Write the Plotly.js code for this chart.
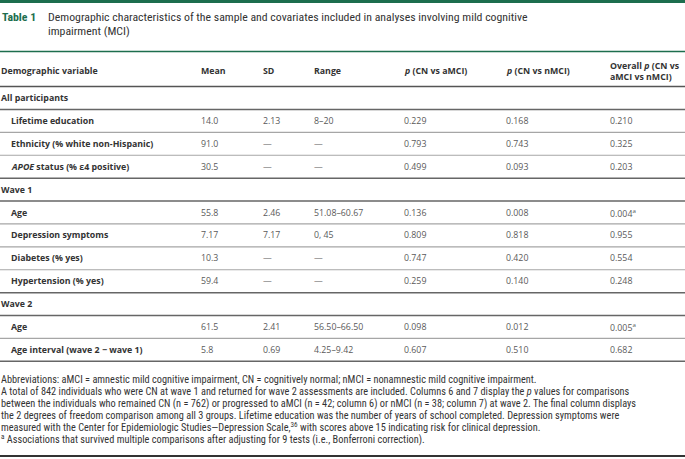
<!DOCTYPE html>
<html>
<head>
<meta charset="utf-8">
<script src="https://cdn.plot.ly/plotly-3.0.1.min.js"></script>
<style>html,body{margin:0;padding:0;background:#fff;}#chart{width:685px;height:459px;}</style>
</head>
<body>
<div id="chart"></div>
<script>
// ---------- DATA ----------
const rowLabels = ["All participants", "Lifetime education", "Ethnicity (% white non-Hispanic)",
  "<i>APOE</i> status (% ε4 positive)", "Wave 1", "Age", "Depression symptoms", "Diabetes (% yes)",
  "Hypertension (% yes)", "Wave 2", "Age", "Age interval (wave 2 − wave 1)"];
const isSection = [true, false, false, false, true, false, false, false, false, true, false, false];
const meanVals  = ["", "14.0", "91.0", "30.5", "", "55.8", "7.17", "10.3", "59.4", "", "61.5", "5.8"];
const sdVals    = ["", "2.13", "—", "—", "", "2.46", "7.17", "—", "—", "", "2.41", "0.69"];
const rangeVals = ["", "8–20", "—", "—", "", "51.08–60.67", "0, 45", "—", "—", "", "56.50–66.50", "4.25–9.42"];
const pAmci     = ["", "0.229", "0.793", "0.499", "", "0.136", "0.809", "0.747", "0.259", "", "0.098", "0.607"];
const pNmci     = ["", "0.168", "0.743", "0.093", "", "0.008", "0.818", "0.420", "0.140", "", "0.012", "0.510"];
const pOverall  = ["", "0.210", "0.325", "0.203", "", "0.004<sup>a</sup>", "0.955", "0.554", "0.248", "", "0.005<sup>a</sup>", "0.682"];
const headers = ["Demographic variable", "Mean", "SD", "Range", "<i>p</i> (CN vs aMCI)", "<i>p</i> (CN vs nMCI)", "Overall <i>p</i> (CN vs<br>aMCI vs nMCI)"];
const titleLabel = "Table 1";
const titleText = ["Demographic characteristics of the sample and covariates included in analyses involving mild cognitive", "impairment (MCI)"];
const footnotes = [
  "Abbreviations: aMCI = amnestic mild cognitive impairment, CN = cognitively normal; nMCI = nonamnestic mild cognitive impairment.",
  "A total of 842 individuals who were CN at wave 1 and returned for wave 2 assessments are included. Columns 6 and 7 display the <i>p</i> values for comparisons",
  "between the individuals who remained CN (n = 762) or progressed to aMCI (n = 42; column 6) or nMCI (n = 38; column 7) at wave 2. The final column displays",
  "the 2 degrees of freedom comparison among all 3 groups. Lifetime education was the number of years of school completed. Depression symptoms were",
  "measured with the Center for Epidemiologic Studies—Depression Scale,<sup>36</sup> with scores above 15 indicating risk for clinical depression.",
  "<sup>a</sup> Associations that survived multiple comparisons after adjusting for 9 tests (i.e., Bonferroni correction)."
];

// ---------- LAYOUT CONFIG ----------
const W = 685, H = 459;
const pitch = 22.9, row0px = 98;           // row centre of first body row, px
const pxToRow = px => (px - row0px) / pitch;
const py = px => 1 - px / H;
const colX = [0, 200, 262, 313, 403, 505, 609]; // px == x data units
const indent = 10;
const GREEN = "#1d6e4e";
const bodyFont = "Open Sans, Noto Sans, sans-serif";
const condFont = "Liberation Sans Narrow, Roboto Condensed, Open Sans, sans-serif";

const ann = [];
const shapes = [];

function addText(x, y, text, font, yref) {
  ann.push({x: x, y: y, xref: "x", yref: yref || "y", text: text, showarrow: false,
    xanchor: "left", yanchor: "middle", align: "left", font: font, borderpad: 0});
}

// top green bar
shapes.push({type: "rect", xref: "paper", yref: "paper", x0: 0, x1: 1, y0: py(0), y1: py(3),
  fillcolor: GREEN, line: {width: 0}});
// title
const tSize = 11.8;
addText(1, py(17), "<b>" + titleLabel + "</b>", {family: condFont, size: tSize, color: GREEN}, "paper");
addText(47, py(17), titleText[0], {family: condFont, size: tSize, color: "#333"}, "paper");
addText(47, py(31.5), titleText[1], {family: condFont, size: tSize, color: "#333"}, "paper");
// green rule above header
shapes.push({type: "line", xref: "paper", yref: "paper", x0: 0, x1: 1, y0: py(51.5), y1: py(51.5),
  line: {color: GREEN, width: 1.5}});

// header
const hdrFont = {family: bodyFont, size: 8.8, color: "#333"};
headers.forEach((h, j) => {
  addText(colX[j], pxToRow(71), "<b>" + h + "</b>", hdrFont);
});
// header bottom rule
shapes.push({type: "line", xref: "paper", yref: "y", x0: 0, x1: 1, y0: -0.5, y1: -0.5,
  line: {color: "#555", width: 1.5}});

// body rows
const labFont = {family: bodyFont, size: 8.8, color: "#333"};
const valFont = {family: bodyFont, size: 8.8, color: "#5a5a5a"};
const cols = [meanVals, sdVals, rangeVals, pAmci, pNmci, pOverall];
rowLabels.forEach((lab, i) => {
  addText(isSection[i] ? colX[0] : colX[0] + indent, i, "<b>" + lab + "</b>", labFont);
  cols.forEach((c, j) => {
    if (c[i] !== "") addText(colX[j + 1], i, c[i], valFont);
  });
  const nextSec = (i + 1 < rowLabels.length) && isSection[i + 1];
  const dark = isSection[i] || nextSec || i === rowLabels.length - 1;
  shapes.push({type: "line", xref: "paper", yref: "y", x0: 0, x1: 1, y0: i + 0.5, y1: i + 0.5,
    line: {color: dark ? "#666" : "#a6a6a6", width: dark ? 1.5 : 1.2}});
});

// footnotes
const fnFont = {family: condFont, size: 10.3, color: "#333"};
footnotes.forEach((f, k) => {
  addText(0, py(379 + k * 12), f, fnFont, "paper");
});
// bottom rule
shapes.push({type: "line", xref: "paper", yref: "paper", x0: 0, x1: 1, y0: py(456), y1: py(456),
  line: {color: "#333", width: 2}});

const layout = {
  width: W, height: H,
  margin: {l: 0, r: 0, t: 0, b: 0, pad: 0},
  paper_bgcolor: "#fff", plot_bgcolor: "#fff",
  showlegend: false,
  xaxis: {range: [0, W], visible: false, fixedrange: true},
  yaxis: {range: [pxToRow(H), pxToRow(0)], visible: false, fixedrange: true},
  annotations: ann,
  shapes: shapes
};

Plotly.newPlot("chart", [{type: "scatter", x: [], y: [], mode: "text", hoverinfo: "skip"}], layout,
  {staticPlot: true, displayModeBar: false});
</script>
</body>
</html>
